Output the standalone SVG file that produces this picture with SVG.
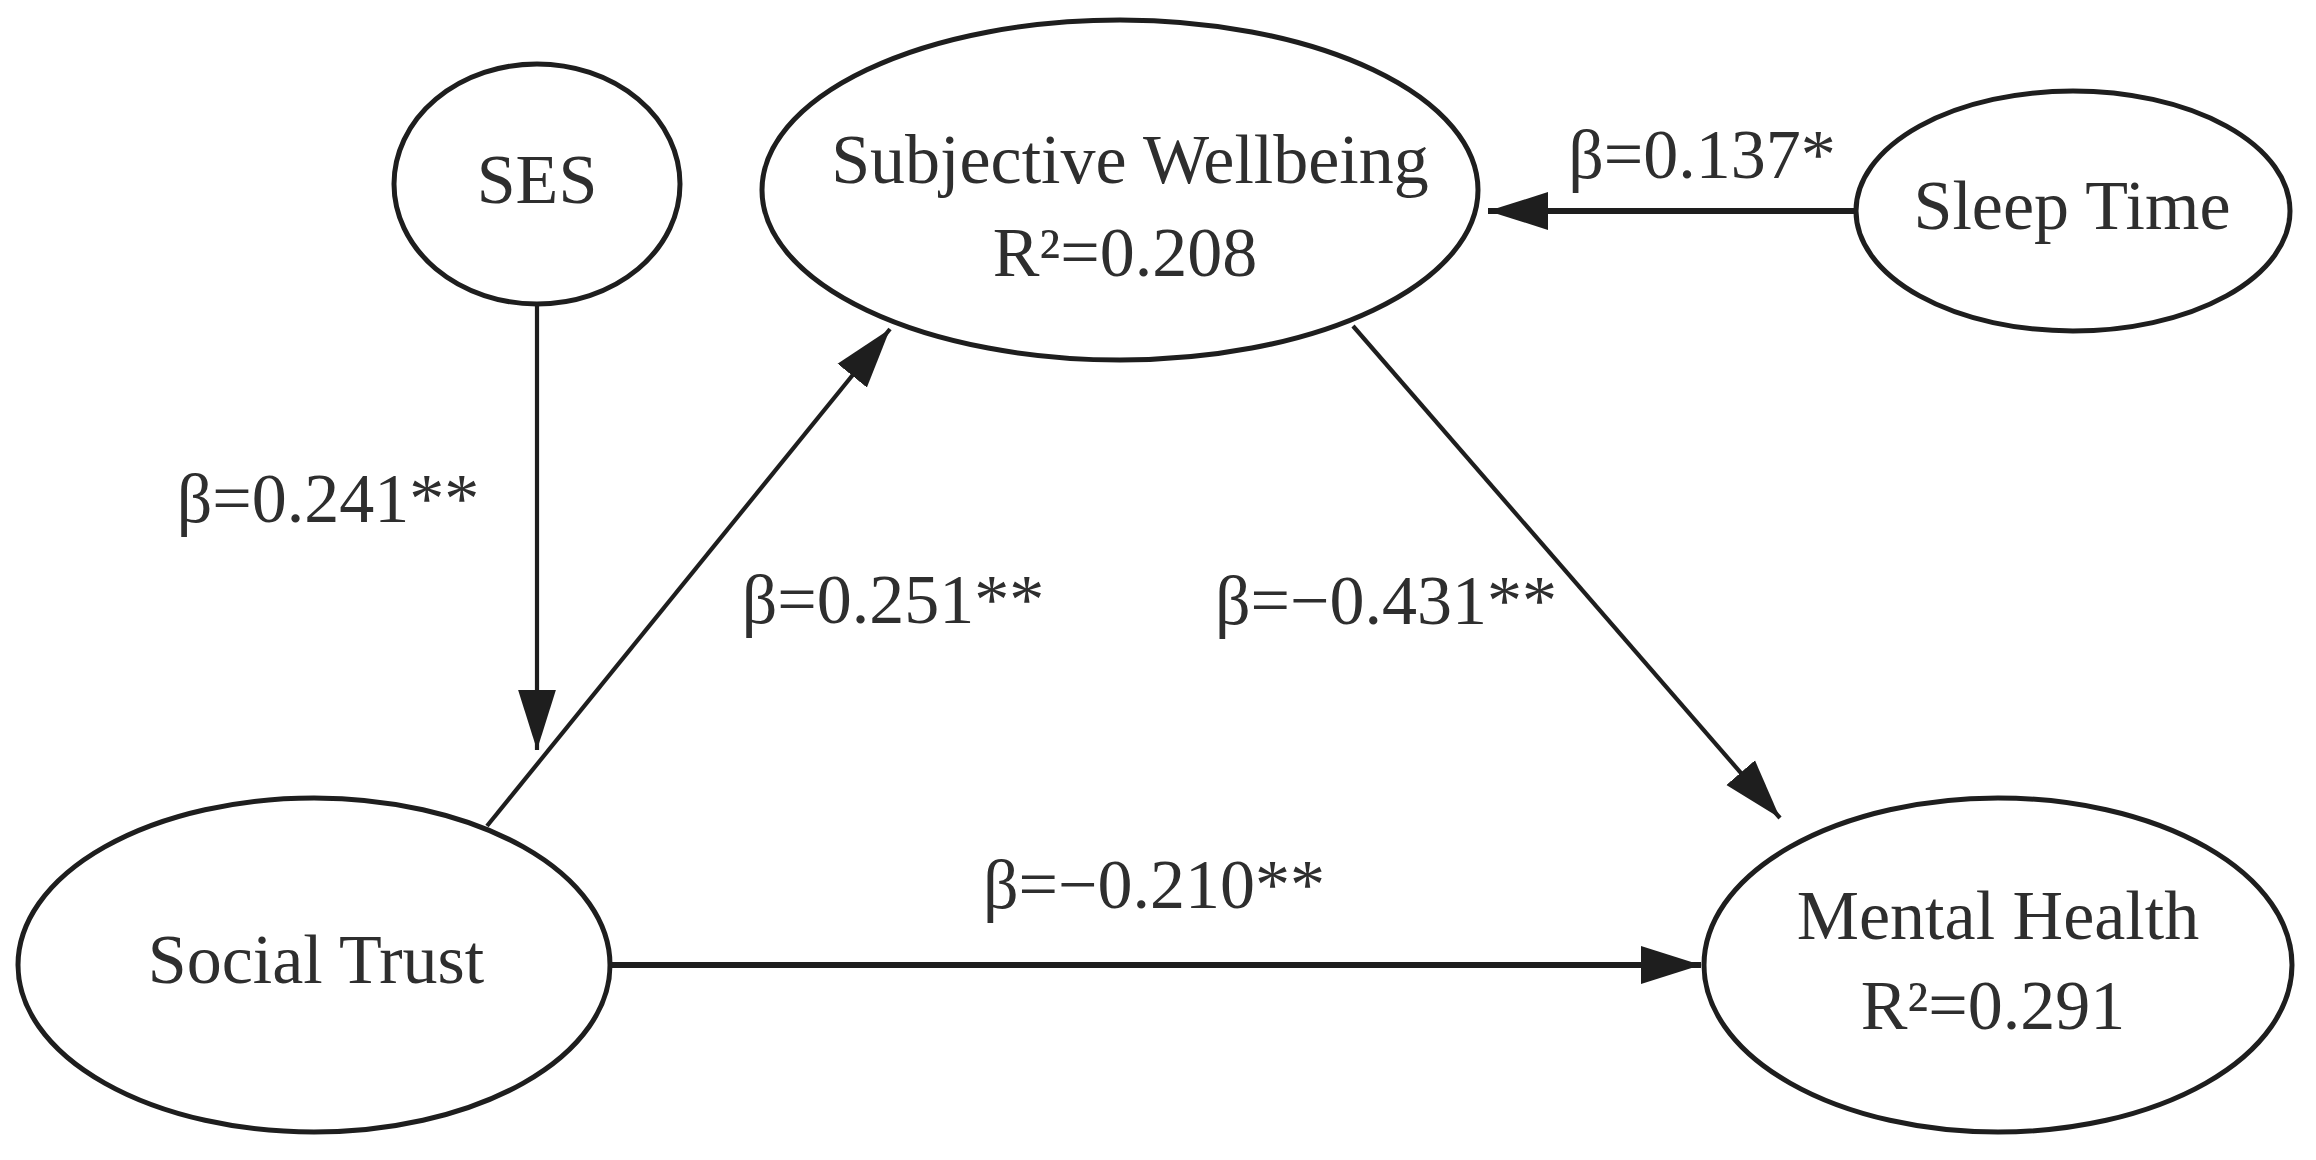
<svg xmlns="http://www.w3.org/2000/svg" width="2316" height="1160" viewBox="0 0 2316 1160">
<style>
.node{fill:#fff;stroke:#1e1e1e;stroke-width:5}
.t{font-family:"Liberation Serif","Times New Roman",serif;font-size:70px;fill:#2e2e2e;text-anchor:middle}
.c{stroke:#1e1e1e;fill:none}
.thin{stroke-width:4.2}
.thick{stroke-width:6}
</style>
<defs>
<marker id="ah" markerUnits="userSpaceOnUse" markerWidth="60" markerHeight="40" viewBox="0 0 54 34" refX="54" refY="17" orient="auto">
<path d="M0,0 L54,17 L0,34 Z" fill="#1e1e1e"/>
</marker>
</defs>
<rect width="2316" height="1160" fill="#fff"/>
<g id="connectors">
<line class="c thin" x1="537" y1="305" x2="537" y2="750" marker-end="url(#ah)"/>
<line class="c thin" x1="487" y1="826" x2="890" y2="329" marker-end="url(#ah)"/>
<line class="c thick" x1="1856" y1="211" x2="1488" y2="211" marker-end="url(#ah)"/>
<line class="c thin" x1="1353" y1="326" x2="1780" y2="818" marker-end="url(#ah)"/>
<line class="c thick" x1="611" y1="965" x2="1701" y2="965" marker-end="url(#ah)"/>
</g>
<g id="labels">
<text class="t" x="328" y="522">β=0.241**</text>
<text class="t" x="893" y="623">β=0.251**</text>
<text class="t" x="1386" y="624">β=−0.431**</text>
<text class="t" x="1154" y="908">β=−0.210**</text>
<text class="t" x="1702" y="178">β=0.137*</text>
</g>
<g id="ses">
<ellipse class="node" cx="537" cy="184" rx="143" ry="120"/>
<text class="t" x="537" y="203">SES</text>
</g>
<g id="sw">
<ellipse class="node" cx="1120" cy="190" rx="358" ry="170"/>
<text class="t" x="1130" y="183">Subjective Wellbeing</text>
<text class="t" x="1125" y="276">R²=0.208</text>
</g>
<g id="sleep">
<ellipse class="node" cx="2073" cy="211" rx="217" ry="120"/>
<text class="t" x="2072" y="229">Sleep Time</text>
</g>
<g id="st">
<ellipse class="node" cx="314" cy="965" rx="296" ry="167"/>
<text class="t" x="316" y="983">Social Trust</text>
</g>
<g id="mh">
<ellipse class="node" cx="1998" cy="965" rx="294" ry="167"/>
<text class="t" x="1998" y="939">Mental Health</text>
<text class="t" x="1993" y="1029">R²=0.291</text>
</g>
</svg>
